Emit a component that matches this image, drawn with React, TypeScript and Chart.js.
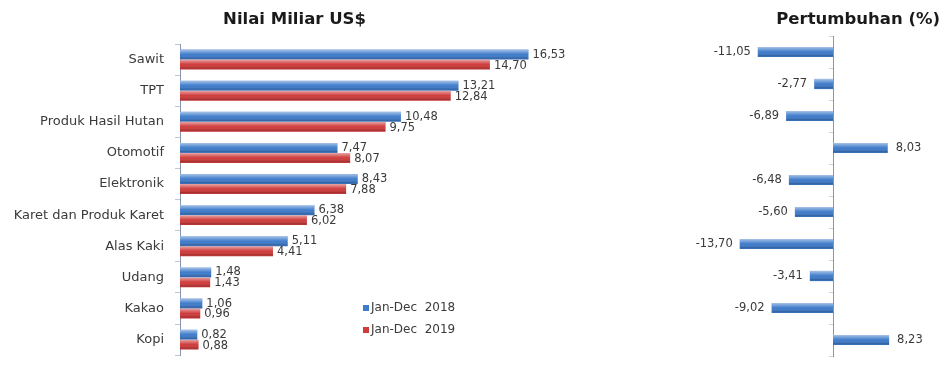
import React, { useEffect, useRef } from "react";
import { Chart, registerables } from "chart.js";

Chart.register(...registerables);

const categories = [
  "Sawit",
  "TPT",
  "Produk Hasil Hutan",
  "Otomotif",
  "Elektronik",
  "Karet dan Produk Karet",
  "Alas Kaki",
  "Udang",
  "Kakao",
  "Kopi",
];
const values2018 = [16.53, 13.21, 10.48, 7.47, 8.43, 6.38, 5.11, 1.48, 1.06, 0.82];
const values2019 = [14.7, 12.84, 9.75, 8.07, 7.88, 6.02, 4.41, 1.43, 0.96, 0.88];
const growth = [-11.05, -2.77, -6.89, 8.03, -6.48, -5.6, -13.7, -3.41, -9.02, 8.23];
const seriesLabels = ["Jan-Dec  2018", "Jan-Dec  2019"];
const leftTitle = "Nilai Miliar US$";
const rightTitle = "Pertumbuhan (%)";

const BLUE = "#3f7ccb";
const RED = "#cf3c3c";
const TEXT = "#3a3a3a";
const FONT = "'DejaVu Sans', Verdana, sans-serif";

const fmt = (v: number) => v.toFixed(2).replace(".", ",");

const shadePlugin = {
  id: "shade",
  afterDatasetsDraw(chart: any) {
    const ctx = chart.ctx;
    chart.data.datasets.forEach((_: any, di: number) => {
      const meta = chart.getDatasetMeta(di);
      meta.data.forEach((el: any) => {
        const p = el.getProps(["x", "y", "base", "height"], true);
        const left = Math.min(p.x, p.base);
        const right = Math.max(p.x, p.base);
        const top = p.y - p.height / 2;
        const bottom = p.y + p.height / 2;
        const g = ctx.createLinearGradient(0, top, 0, bottom);
        g.addColorStop(0, "rgba(255,255,255,0.55)");
        g.addColorStop(0.3, "rgba(255,255,255,0.2)");
        g.addColorStop(0.5, "rgba(255,255,255,0)");
        g.addColorStop(0.85, "rgba(0,0,0,0.18)");
        g.addColorStop(1, "rgba(0,0,0,0.06)");
        ctx.save();
        ctx.fillStyle = g;
        ctx.fillRect(left, top, right - left, bottom - top);
        ctx.restore();
      });
    });
  },
};

const leftLabelPlugin = {
  id: "leftLabels",
  afterDatasetsDraw(chart: any) {
    const ctx = chart.ctx;
    ctx.save();
    ctx.font = `11.5px ${FONT}`;
    ctx.fillStyle = TEXT;
    ctx.textBaseline = "middle";
    ctx.textAlign = "left";
    chart.data.datasets.forEach((ds: any, di: number) => {
      const meta = chart.getDatasetMeta(di);
      meta.data.forEach((el: any, i: number) => {
        const p = el.getProps(["x", "y"], true);
        ctx.fillText(fmt(ds.data[i]), p.x + 4, p.y + (di === 0 ? 0 : 1));
      });
    });
    // legend
    ctx.font = `12px ${FONT}`;
    const lx = 363;
    const ly = [308, 330];
    chart.data.datasets.forEach((ds: any, di: number) => {
      ctx.fillStyle = ds.backgroundColor;
      ctx.fillRect(lx, ly[di] - 3, 6, 6);
      ctx.fillStyle = TEXT;
      ctx.fillText(ds.label, lx + 8, ly[di]);
    });
    ctx.restore();
  },
};

const rightLabelPlugin = {
  id: "rightLabels",
  afterDatasetsDraw(chart: any) {
    const ctx = chart.ctx;
    ctx.save();
    ctx.font = `11.5px ${FONT}`;
    ctx.fillStyle = TEXT;
    ctx.textBaseline = "middle";
    const ds = chart.data.datasets[0];
    chart.getDatasetMeta(0).data.forEach((el: any, i: number) => {
      const p = el.getProps(["x", "y"], true);
      const v = ds.data[i];
      if (v < 0) {
        ctx.textAlign = "right";
        ctx.fillText(fmt(v), p.x - 7, p.y);
      } else {
        ctx.textAlign = "left";
        ctx.fillText(fmt(v), p.x + 8, p.y);
      }
    });
    ctx.restore();
  },
};

export default function App() {
  const leftRef = useRef<HTMLCanvasElement>(null);
  const rightRef = useRef<HTMLCanvasElement>(null);

  useEffect(() => {
    const left = new Chart(leftRef.current!, {
      type: "bar",
      data: {
        labels: categories,
        datasets: [
          { label: seriesLabels[0], data: values2018, backgroundColor: BLUE },
          { label: seriesLabels[1], data: values2019, backgroundColor: RED },
        ],
      },
      options: {
        indexAxis: "y",
        animation: false,
        responsive: true,
        maintainAspectRatio: false,
        layout: { padding: { left: 0, right: 0, top: 0, bottom: 2 } },
        datasets: { bar: { categoryPercentage: 0.64, barPercentage: 1 } },
        plugins: {
          legend: { display: false },
          tooltip: { enabled: false },
          title: {
            display: true,
            text: leftTitle,
            color: "#1a1a1a",
            font: { family: FONT, size: 16.5, weight: "bold", lineHeight: 1.1 },
            padding: { top: 11, bottom: 14.85 },
          },
        },
        scales: {
          x: { display: false, min: 0, max: 19.4 },
          y: {
            afterFit: (s: any) => {
              s.width = 180;
            },
            border: { display: true, color: "#8a96ae", width: 1 },
            grid: { drawOnChartArea: false, tickLength: 5, color: "#c0c6d2" },
            ticks: {
              color: TEXT,
              padding: 11,
              font: { family: FONT, size: 13 },
            },
          },
        },
      },
      plugins: [shadePlugin, leftLabelPlugin],
    });

    const right = new Chart(rightRef.current!, {
      type: "bar",
      data: {
        labels: categories,
        datasets: [{ label: rightTitle, data: growth, backgroundColor: BLUE }],
      },
      options: {
        indexAxis: "y",
        animation: false,
        responsive: true,
        maintainAspectRatio: false,
        layout: { padding: { left: 0, right: 0, top: 0, bottom: 18 } },
        datasets: { bar: { categoryPercentage: 0.64, barPercentage: 0.5 } },
        plugins: {
          legend: { display: false },
          tooltip: { enabled: false },
          title: {
            display: true,
            text: rightTitle,
            align: "end",
            color: "#1a1a1a",
            font: { family: FONT, size: 16.5, weight: "bold", lineHeight: 1.1 },
            padding: { top: 11, bottom: 6.85 },
          },
        },
        scales: {
          x: { display: false, min: -21, max: 15.7 },
          y: {
            position: { x: 0 } as any,
            border: { display: true, color: "#8a96ae", width: 1 },
            grid: { drawOnChartArea: false, tickLength: 4, color: "#d8d2b8" },
            ticks: { display: false },
          },
        },
      },
      plugins: [shadePlugin, rightLabelPlugin],
    });

    return () => {
      left.destroy();
      right.destroy();
    };
  }, []);

  return (
    <div
      style={{
        position: "fixed",
        left: 0,
        top: 0,
        width: 944,
        height: 374,
        overflow: "hidden",
        background: "#ffffff",
      }}
    >
      <div style={{ position: "absolute", left: 0, top: 0, width: 589, height: 374 }}>
        <canvas ref={leftRef} />
      </div>
      <div style={{ position: "absolute", left: 690, top: 0, width: 250, height: 374 }}>
        <canvas ref={rightRef} />
      </div>
    </div>
  );
}
